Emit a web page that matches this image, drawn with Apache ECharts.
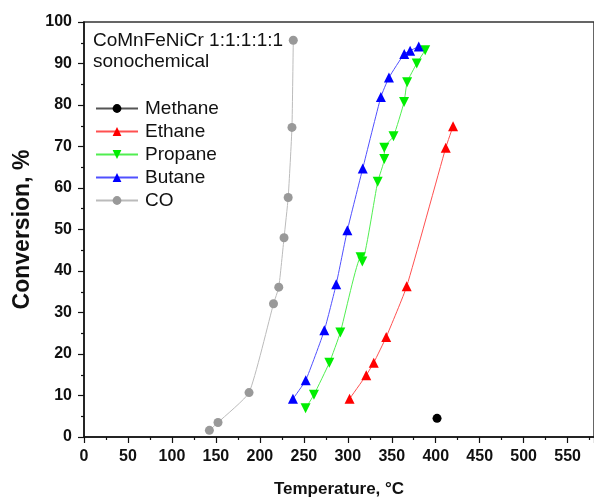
<!DOCTYPE html>
<html>
<head>
<meta charset="utf-8">
<script src="https://cdn.jsdelivr.net/npm/echarts@6/dist/echarts.min.js"></script>
<style>
  html, body { margin: 0; padding: 0; background: #fff; }
  #chart { width: 594px; height: 504px; }
</style>
</head>
<body>
<div id="chart"></div>
<script>
// temperature (°C) and conversion (%)
var methaneT = [401.5];
var methaneC = [4.5];
var ethaneT = [302, 321, 329.5, 343.7, 367, 411.4, 419.7];
var ethaneC = [9.2, 14.9, 17.9, 24.1, 36.3, 69.7, 74.9];
var propaneT = [252, 261.5, 279, 291.5, 314.5, 316.5, 334, 341.5, 341.5, 352, 364, 367.5, 378.4, 388];
var propaneC = [6.9, 10.2, 17.9, 25.2, 43.3, 42.3, 61.5, 67.0, 69.7, 72.5, 80.7, 85.5, 90.0, 93.2];
var butaneT = [237.6, 252.2, 273.3, 286.8, 299.5, 317, 337.6, 346.8, 364.2, 370.9, 380.7];
var butaneC = [9.2, 13.7, 25.7, 36.8, 49.8, 64.7, 81.9, 86.6, 92.3, 93.1, 94.1];
var coT = [142.6, 152.4, 187.7, 215.5, 221.5, 227.5, 232.2, 236.5, 238.0];
var coC = [1.6, 3.5, 10.7, 32.1, 36.1, 48.0, 57.7, 74.6, 95.6];

function pairs(xs, ys) {
    var out = [];
    for (var i = 0; i < xs.length; i++) out.push([xs[i], ys[i]]);
    return out;
}

function mkSeries(name, xs, ys, symbol, size, color, lineColor, rotate) {
    return {
        name: name,
        type: 'line',
        data: pairs(xs, ys),
        symbol: symbol,
        symbolSize: size,
        symbolRotate: rotate || 0,
        smooth: 0.15,
        itemStyle: { color: color },
        lineStyle: { color: lineColor, width: 1 },
        emphasis: { disabled: true },
        z: 3
    };
}

var chart = echarts.init(document.getElementById('chart'), null, { renderer: 'canvas' });
var fontFam = '"Liberation Sans", Arial, sans-serif';

chart.setOption({
    animation: false,
    textStyle: { fontFamily: fontFam },
    title: {
        text: 'CoMnFeNiCr 1:1:1:1:1\nsonochemical',
        left: 88,
        top: 25,
        textStyle: { fontFamily: fontFam, fontSize: 19, fontWeight: 'normal', color: '#111', lineHeight: 21 }
    },
    legend: {
        orient: 'vertical',
        left: 90,
        top: 94,
        itemWidth: 42,
        itemHeight: 11,
        itemGap: 4,
        textStyle: { fontFamily: fontFam, fontSize: 19, color: '#111', lineHeight: 19, padding: [0, 0, 0, 2] },
        data: ['Methane', 'Ethane', 'Propane', 'Butane', 'CO']
    },
    grid: {
        left: 84, right: -6, top: 22, bottom: 67,
        show: true, borderColor: '#333', borderWidth: 1.5
    },
    xAxis: {
        type: 'value',
        min: 0, max: 580, interval: 50,
        name: 'Temperature, °C',
        nameLocation: 'middle',
        nameGap: 44,
        nameTextStyle: { fontFamily: fontFam, fontSize: 17, fontWeight: 'bold', color: '#111' },
        axisLine: { lineStyle: { color: '#111', width: 1.5 } },
        axisTick: { inside: false, length: 6, lineStyle: { color: '#111', width: 1.2 } },
        minorTick: { show: true, splitNumber: 2, length: 3, lineStyle: { color: '#111', width: 1.2 } },
        axisLabel: { margin: 12, fontSize: 16, fontWeight: 'bold', color: '#111', showMaxLabel: false },
        splitLine: { show: false }
    },
    yAxis: {
        type: 'value',
        min: 0, max: 100, interval: 10,
        name: 'Conversion, %',
        nameLocation: 'middle',
        nameGap: 50,
        nameTextStyle: { fontFamily: fontFam, fontSize: 23, fontWeight: 'bold', color: '#111' },
        axisLine: { lineStyle: { color: '#111', width: 1.5 } },
        axisTick: { inside: false, length: 6, lineStyle: { color: '#111', width: 1.2 } },
        minorTick: { show: true, splitNumber: 2, length: 3, lineStyle: { color: '#111', width: 1.2 } },
        axisLabel: { margin: 12, fontSize: 16, fontWeight: 'bold', color: '#111' },
        splitLine: { show: false }
    },
    series: [
        mkSeries('Methane', methaneT, methaneC, 'circle', 9, '#000', '#555'),
        mkSeries('Ethane', ethaneT, ethaneC, 'triangle', 10, '#ff0000', '#ff5050'),
        mkSeries('Propane', propaneT, propaneC, 'triangle', 10, '#00ee00', '#50ee50', 180),
        mkSeries('Butane', butaneT, butaneC, 'triangle', 10, '#0000ff', '#5050ff'),
        mkSeries('CO', coT, coC, 'circle', 9, '#999999', '#bbbbbb')
    ]
});
</script>
</body>
</html>
